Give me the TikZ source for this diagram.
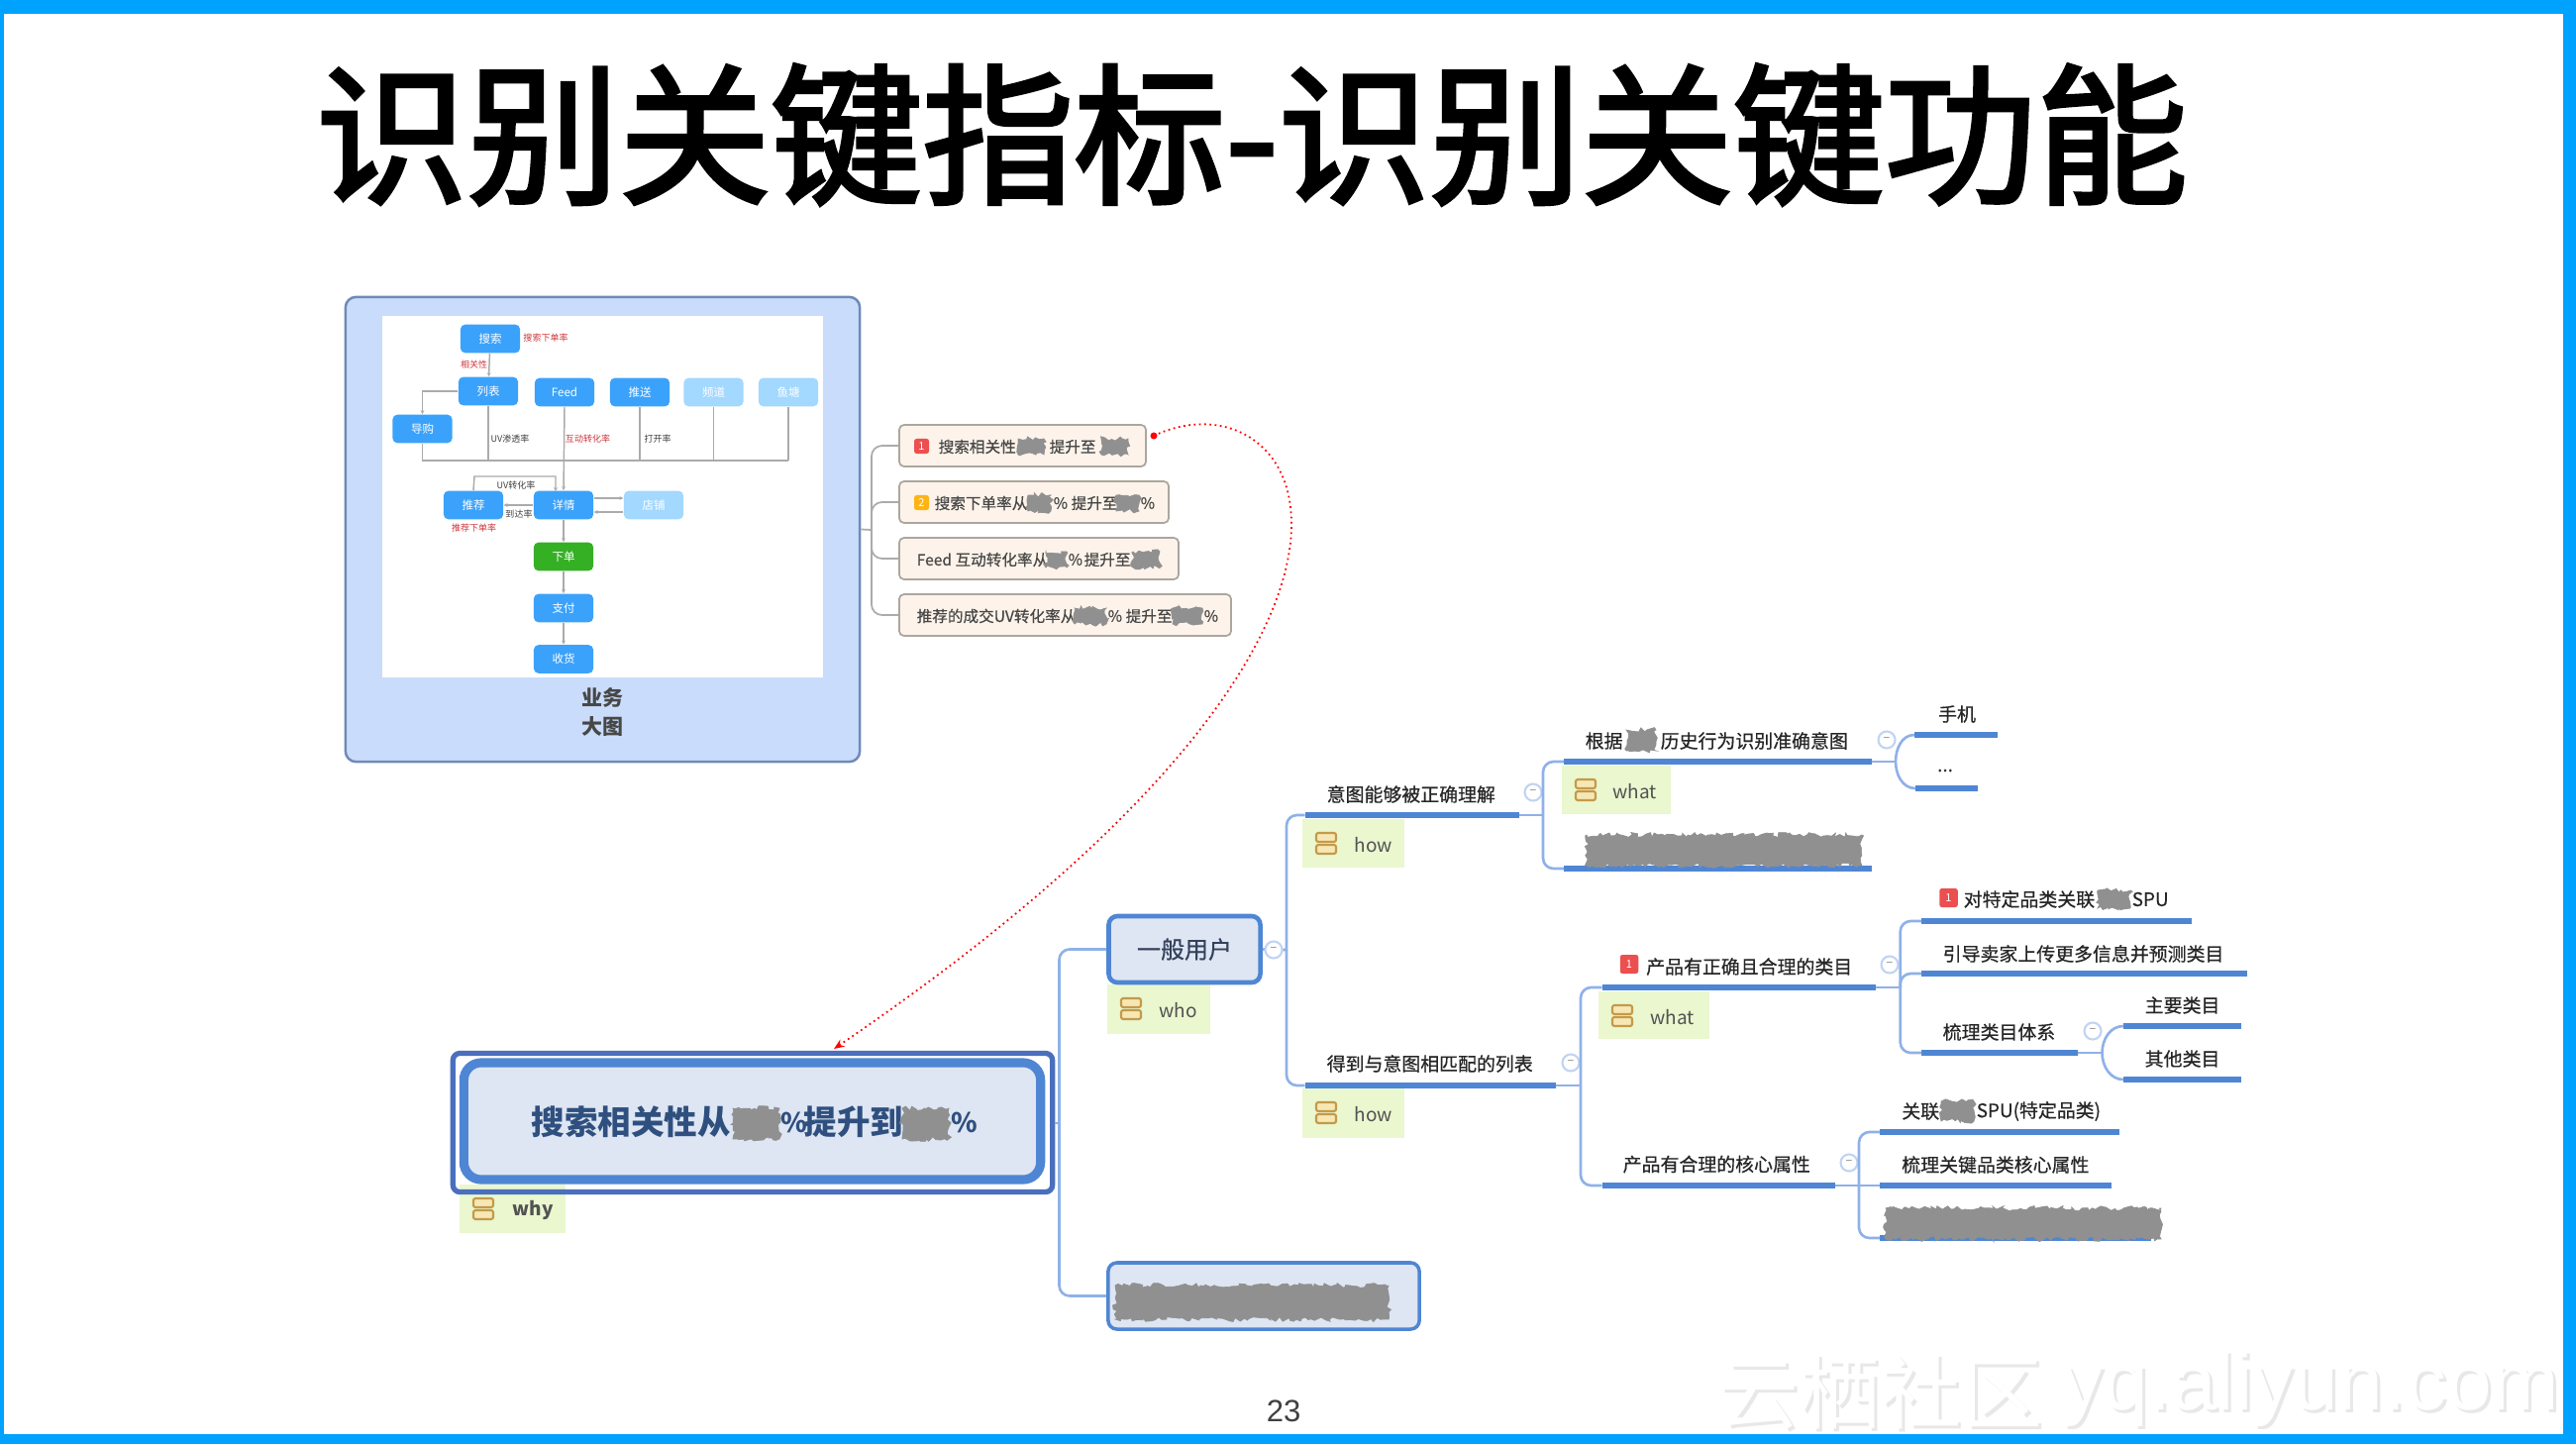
\documentclass[tikz,border=0pt]{standalone}
\usepackage{fontspec}
\setmainfont{Noto Sans CJK SC}
\newfontfamily\latinf{Liberation Sans}
\newfontfamily\titlef[FakeBold=2.5]{Noto Sans CJK SC}
\newfontfamily\medf[FakeBold=0.5]{Noto Sans CJK SC}
\usetikzlibrary{arrows.meta,decorations.pathmorphing}
\newlength\pxu \setlength\pxu{0.28453pt}
\newcommand\fpx[1]{\fontsize{#1\pxu}{#1\pxu}\selectfont}
\definecolor{edgeblue}{HTML}{00A2FF}
\definecolor{panelfill}{HTML}{C9DCFB}
\definecolor{paneldraw}{HTML}{7089B8}
\definecolor{mini}{HTML}{3BA2FB}
\definecolor{minilight}{HTML}{A3D8FF}
\definecolor{minigreen}{HTML}{35B025}
\definecolor{miniline}{HTML}{ABABAB}
\definecolor{minired}{HTML}{D0353A}
\definecolor{boxfill}{HTML}{FDF3EA}
\definecolor{boxdraw}{HTML}{ABA69E}
\definecolor{under}{HTML}{4F86D4}
\definecolor{branch}{HTML}{8FB1E8}
\definecolor{topicfill}{HTML}{DEE6F3}
\definecolor{outerblue}{HTML}{4A6FBD}
\definecolor{tagfill}{HTML}{EAF7CF}
\definecolor{blobgray}{HTML}{909090}
\definecolor{icondraw}{HTML}{C49A4A}
\definecolor{iconfill}{HTML}{F6E7B4}
\definecolor{flagred}{HTML}{EC4F50}
\definecolor{flagamber}{HTML}{FDB414}
\definecolor{usertext}{HTML}{33415C}
\tikzset{
  x=0.01cm,y=-0.01cm,
  mininode/.style={fill=mini,rounded corners=1.3pt,minimum width=0.60cm,minimum height=0.285cm,inner sep=0pt,text=white,font=\fpx{11.5}},
  minipale/.style={mininode,fill=minilight},
  minigo/.style={mininode,fill=minigreen},
  miniconn/.style={draw=miniline,line width=0.42pt},
  miniarrow/.style={miniconn,-{Stealth[length=1.1pt,width=1.1pt]}},
  minilab/.style={inner sep=0pt,font=\fpx{9},text=black!75},
  miniredlab/.style={inner sep=0pt,font=\fpx{9},text=minired},
  kpi/.style={draw=boxdraw,line width=0.5pt,fill=boxfill,rounded corners=1.4pt,inner sep=0pt,minimum height=0.42cm},
  kpilab/.style={inner sep=0pt,anchor=west,font=\medf\fpx{15.6},text=black!72},
  t/.style={inner sep=0pt,anchor=west,font=\medf\fpx{18.9},text=black!85},
  uline/.style={draw=under,line width=1.6pt},
  conn/.style={draw=branch,line width=0.75pt,rounded corners=3pt},
  stem/.style={draw=branch,line width=0.75pt},
  collapse/.style={circle,draw=branch!55,line width=0.6pt,fill=white,minimum size=0.17cm,inner sep=0pt,font=\fpx{12},text=black!45},
  blobby/.style={fill=blobgray,draw=blobgray,line width=0.2pt,decorate,decoration={random steps,segment length=0.9pt,amplitude=0.7pt}},
  tagnote/.style={fill=tagfill,inner sep=0pt},
  tagicon/.style={draw=icondraw,fill=iconfill,line width=0.6pt,rounded corners=0.6pt},
  taglab/.style={inner sep=0pt,anchor=west,font=\fpx{19},text=black!68},
  iconred/.style={fill=flagred,text=white,rounded corners=0.7pt,inner sep=0pt,font=\fpx{11}},
  iconamber/.style={fill=flagamber,text=white,rounded corners=0.7pt,inner sep=0pt,font=\fpx{11}},
  topicbox/.style={draw=under,line width=1.3pt,fill=topicfill,rounded corners=2.5pt,inner sep=0pt},
  mainlab/.style={inner sep=0pt,anchor=west,font=\fpx{33.5}\bfseries,text=under!60!black},
  mainpct/.style={inner sep=0pt,anchor=west,font=\fpx{27}\bfseries,text=under!60!black},
}
% one underlined topic: name, x1, x2, y
\newcommand\uln[4]{\coordinate (#1-l) at (#2,#4);\coordinate (#1-r) at (#3,#4);\draw[uline] (#1-l) -- (#1-r);}
% one note tag: name, x1, y1, x2, y2, label, labelx
\newcommand\tagn[7]{%
  \node[tagnote,minimum width={(#4-#2)*0.01cm},minimum height={(#5-#3)*0.01cm}] (#1) at ({(#2+#4)/2},{(#3+#5)/2}) {};
  \draw[tagicon] ({#2+14},{#3+14}) rectangle ({#2+34},{#3+23});
  \draw[tagicon] ({#2+14},{#3+26}) rectangle ({#2+34},{#3+35});
  \node[taglab] (#1-t) at (#7,{#3+26}) {#6};}
\newcommand\blob[4]{\path[blobby] (#1,#2) rectangle (#3,#4);}
\begin{document}
\begin{tikzpicture}
\pgfmathsetseed{11}
\useasboundingbox (0,0) rectangle (2601,1458);
\fill[white] (0,0) rectangle (2601,1458);
% frame
\fill[edgeblue] (0,0) rectangle (2601,14);
\fill[edgeblue] (0,1448) rectangle (2601,1458);
\fill[edgeblue] (0,0) rectangle (4,1458);
\fill[edgeblue] (2588,0) rectangle (2601,1458);
% title
\node[inner sep=0pt,font=\titlef\fpx{153},text=black] (title) at (1264,136) {识别关键指标-识别关键功能};
% business overview panel
\node[draw=paneldraw,line width=0.7pt,fill=panelfill,rounded corners=3pt,minimum width=5.19cm,minimum height=4.69cm,inner sep=0pt] (panel) at (608.5,534.5) {};
\node[fill=white,minimum width=4.45cm,minimum height=3.65cm,inner sep=0pt] (sheet) at (608.5,501.5) {};
\node[mininode] (ss) at (495,342) {搜索};
\node[mininode] (lb) at (493,395) {列表};
\node[mininode] (fd) at (570,396) {Feed};
\node[mininode] (ts) at (646,396) {推送};
\node[minipale] (pd) at (720.5,396) {频道};
\node[minipale] (yt) at (796,396) {鱼塘};
\node[mininode] (dg) at (426.5,433) {导购};
\node[mininode] (tj) at (478,510) {推荐};
\node[mininode] (xq) at (569,510) {详情};
\node[minipale] (dp) at (660,510) {店铺};
\node[minigo] (xd) at (569,562) {下单};
\node[mininode] (zf) at (569,614) {支付};
\node[mininode] (sh) at (569,665.5) {收货};
\coordinate (busL) at (428,465);
\coordinate (busR) at (796,465);
\coordinate (loopA) at (479,481);
\coordinate (loopB) at (561,481);
\coordinate (loopC) at (561,496);
\coordinate (rowA) at (0,503);
\coordinate (rowB) at (0,517);
\draw[miniconn] (busL) -- (busR);
\draw[miniarrow] (ss) -- (lb);
\draw[miniarrow] (lb.west) -| (dg.north);
\draw[miniconn] (dg.south) |- (busL);
\draw[miniconn] (lb.south) -- (lb.south |- busL);
\draw[miniarrow] (fd.south) -- (xq.north);
\draw[miniconn] (ts.south) -- (ts.south |- busL);
\draw[miniconn] (pd.south) -- (pd.south |- busL);
\draw[miniconn] (yt.south) -- (yt.south |- busL);
\draw[miniarrow] (tj.north) -- (loopA) -- (loopB) -- (loopC);
\draw[miniarrow] (xq.west) -- (tj.east);
\draw[miniarrow] (xq.east |- rowA) -- (dp.west |- rowA);
\draw[miniarrow] (dp.west |- rowB) -- (xq.east |- rowB);
\draw[miniarrow] (xq) -- (xd);
\draw[miniarrow] (xd) -- (zf);
\draw[miniarrow] (zf) -- (sh);
\node[miniredlab] (l1) at (551,340.7) {搜索下单率};
\node[miniredlab] (l2) at (478.6,368) {相关性};
\node[minilab] (l3) at (515,443) {UV渗透率};
\node[miniredlab] (l4) at (593.5,443) {互动转化率};
\node[minilab] (l5) at (664,443) {打开率};
\node[minilab] (l6) at (521,490) {UV转化率};
\node[minilab] (l7) at (524,519) {到达率};
\node[miniredlab] (l8) at (478.6,533) {推荐下单率};
\node[inner sep=0pt,font=\fpx{21}\bfseries,text=black!72] (cap1) at (608.6,704) {业务};
\node[inner sep=0pt,font=\fpx{21}\bfseries,text=black!72] (cap2) at (608.6,734) {大图};
% KPI boxes
\node[kpi,minimum width=2.49cm] (b1) at (1032.5,450) {};
\node[kpi,minimum width=2.72cm] (b2) at (1044,507) {};
\node[kpi,minimum width=2.82cm] (b3) at (1049,564) {};
\node[kpi,minimum width=3.35cm] (b4) at (1075.5,621) {};
\coordinate (jb) at (880,535);
\draw[draw=miniline,line width=0.5pt] (panel.east) -- (jb);
\foreach \k in {b1,b2,b3,b4} \draw[draw=miniline,line width=0.5pt,rounded corners=3pt] (jb) |- (\k.west);
\node[iconred,minimum size=0.15cm] (i1) at (930.5,450.5) {1};
\node[kpilab] (b1a) at (947,451) {搜索相关性};
\node[kpilab] (b1b) at (1059,451) {提升至};
\blob{1028}{443}{1054}{459}\blob{1112}{443}{1139}{459}
\node[iconamber,minimum size=0.15cm] (i2) at (930.5,507.5) {2};
\node[kpilab] (b2a) at (943,508) {搜索下单率从};
\node[kpilab] (b2b) at (1063,508) {\%};
\node[kpilab] (b2c) at (1081,508) {提升至};
\node[kpilab] (b2d) at (1151,508) {\%};
\blob{1038}{500}{1061}{516}\blob{1127}{500}{1150}{516}
\node[kpilab] (b3a) at (925,565) {Feed 互动转化率从};
\node[kpilab] (b3b) at (1078,565) {\%};
\node[kpilab] (b3c) at (1094,565) {提升至};
\blob{1056}{557}{1077}{573}\blob{1144}{557}{1171}{573}
\node[kpilab] (b4a) at (925,622) {推荐的成交UV转化率从};
\node[kpilab] (b4b) at (1118,622) {\%};
\node[kpilab] (b4c) at (1136,622) {提升至};
\node[kpilab] (b4d) at (1215,622) {\%};
\blob{1085}{614}{1117}{630}\blob{1184}{614}{1214}{630}
% main node
\tagn{whyt}{464}{1196}{571}{1245}{\bfseries why}{517}
\node[draw=outerblue,line width=1.5pt,rounded corners=2pt,minimum width=6.05cm,minimum height=1.40cm,inner sep=0pt] (mainout) at (760,1133.5) {};
\node[draw=under,line width=2.6pt,fill=topicfill,rounded corners=5pt,minimum width=5.82cm,minimum height=1.18cm,inner sep=0pt] (mainin) at (759.5,1132) {};
\node[mainlab] (m1) at (536,1133) {搜索相关性从};
\node[mainpct] (m2) at (788,1133) {\%};
\node[mainlab] (m2b) at (811,1133) {提升到};
\node[mainpct] (m3) at (960,1133) {\%};
\blob{740}{1119}{787}{1150}\blob{911}{1119}{958}{1150}
% level 1
\tagn{whot}{1118}{994}{1222}{1044}{who}{1170}
\node[topicbox,minimum width=1.53cm,minimum height=0.67cm,font=\medf\fpx{24},text=usertext] (user) at (1196,958.5) {一般用户};
\node[topicbox,line width=1pt,minimum width=3.14cm,minimum height=0.67cm] (other) at (1276,1308.5) {};
\blob{1126}{1298}{1402}{1332}
\coordinate (j0) at (1069.5,1134);
\draw[stem] (mainout.east |- j0) -- (j0);
\draw[conn] (j0) |- (user.west);
\draw[conn] (j0) |- (other.west);
% level 2
\uln{u1}{1317.5}{1533.5}{823}
\uln{u2}{1317.5}{1571}{1096}
\node[t] (u1t) at (1339,802) {意图能够被正确理解};
\node[t] (u2t) at (1339,1074) {得到与意图相匹配的列表};
\coordinate (j1) at (1299,959);
\draw[stem] (user.east) -- (j1);
\draw[conn] (j1) |- (u1-l);
\draw[conn] (j1) |- (u2-l);
\node[collapse] (c0) at (1286,959) {−};
\tagn{how1}{1315}{827}{1418}{876}{how}{1367}
\tagn{how2}{1315}{1099}{1418}{1149}{how}{1367}
\node[collapse] (c1) at (1548,800) {−};
\node[collapse] (c2) at (1586,1073) {−};
% intent branch
\uln{u3}{1579}{1890}{769}
\uln{u4}{1579}{1890}{877}
\node[t] (u3a) at (1600,748) {根据};
\node[t] (u3b) at (1676,748) {历史行为识别准确意图};
\blob{1642}{737}{1672}{758}
\blob{1602}{843}{1880}{874}
\coordinate (j2) at (1558,823);
\draw[stem] (u1-r) -- (j2);
\draw[conn] (j2) |- (u3-l);
\draw[conn] (j2) |- (u4-l);
\tagn{what1}{1577}{773}{1686.5}{822}{what}{1628}
\node[collapse] (c3) at (1905,747) {−};
\uln{u5}{1933}{2017}{742}
\uln{u6}{1934}{1997}{796}
\node[t,anchor=center] (u5t) at (1976,721) {手机};
\node[t,anchor=center] (u6t) at (1964,778) {...};
\coordinate (j3) at (1914,769);
\draw[stem] (u3-r) -- (j3);
\draw[stem] (j3) to[out=90,in=180] (u5-l);
\draw[stem] (j3) to[out=-90,in=180] (u6-l);
% product branch
\uln{u7}{1617.6}{1893.6}{997}
\uln{u8}{1617.6}{1852.6}{1197}
\node[iconred,minimum width=0.185cm,minimum height=0.19cm] (i3) at (1645,973.5) {1};
\node[t] (u7t) at (1661.5,976) {产品有正确且合理的类目};
\node[t] (u8t) at (1638,1175.5) {产品有合理的核心属性};
\coordinate (j4) at (1596,1096);
\draw[stem] (u2-r) -- (j4);
\draw[conn] (j4) |- (u7-l);
\draw[conn] (j4) |- (u8-l);
\tagn{what2}{1614}{1001}{1725.6}{1049}{what}{1666}
\node[collapse] (c4) at (1908,974) {−};
\node[collapse] (c5) at (1867,1174) {−};
\uln{u9}{1940}{2212.7}{930}
\uln{u10}{1940}{2269}{983}
\uln{u11}{1940}{2098}{1063}
\node[iconred,minimum width=0.185cm,minimum height=0.19cm] (i4) at (1967.5,906.5) {1};
\node[t] (u9a) at (1982,908) {对特定品类关联};
\node[t] (u9b) at (2152,908) {SPU};
\blob{2118}{899}{2151}{917}
\node[t] (u10t) at (1961,963) {引导卖家上传更多信息并预测类目};
\node[t] (u11t) at (1961,1042) {梳理类目体系};
\coordinate (j5) at (1918.7,997);
\draw[stem] (u7-r) -- (j5);
\draw[conn] (j5) |- (u9-l);
\draw[conn] (j5) |- (u10-l);
\draw[conn] (j5) |- (u11-l);
\node[collapse] (c6) at (2113,1041) {−};
\uln{u12}{2144}{2263}{1036}
\uln{u13}{2144}{2263}{1090}
\node[t] (u12t) at (2165,1015) {主要类目};
\node[t] (u13t) at (2165,1069) {其他类目};
\coordinate (j6) at (2122.5,1063);
\draw[stem] (u11-r) -- (j6);
\draw[stem] (j6) to[out=90,in=180] (u12-l);
\draw[stem] (j6) to[out=-90,in=180] (u13-l);
\uln{u14}{1898}{2139.5}{1143}
\uln{u15}{1898}{2132}{1197}
\uln{u16}{1898}{2172}{1250}
\node[t] (u14a) at (1919.6,1122) {关联};
\node[t] (u14b) at (1995,1122) {SPU(特定品类)};
\blob{1960}{1112}{1993}{1132}
\node[t] (u15t) at (1919.6,1176) {梳理关键品类核心属性};
\blob{1904}{1220}{2182}{1251}
\coordinate (j7) at (1877,1197);
\draw[stem] (u8-r) -- (u15-l);
\draw[conn] (j7) |- (u14-l);
\draw[conn] (j7) |- (u16-l);
% relation
\coordinate (rs) at (1165,440);
\coordinate (re) at (842,1059);
\fill[red] (rs) circle (3.5);
\draw[red,line width=0.5pt,densely dotted,-{Stealth[length=3pt,width=2.4pt]}] (rs) .. controls (1312,370) and (1488,620) .. (re);
% page number and watermark
\node[inner sep=0pt,font=\latinf\fpx{31},text=black!75] (page) at (1296,1425) {23};
\node[inner sep=0pt,anchor=west,font=\fpx{82},text=black!9] (wm1s) at (1737,1408) {云栖社区};
\node[inner sep=0pt,anchor=west,font=\latinf\fpx{82},text=black!9] (wm2s) at (2085,1405) {yq.aliyun.com};
\node[inner sep=0pt,anchor=west,font=\fpx{82},text=white] (wm1) at (1734,1405) {云栖社区};
\node[inner sep=0pt,anchor=west,font=\latinf\fpx{82},text=white] (wm2) at (2082,1402) {yq.aliyun.com};
\end{tikzpicture}
\end{document}
